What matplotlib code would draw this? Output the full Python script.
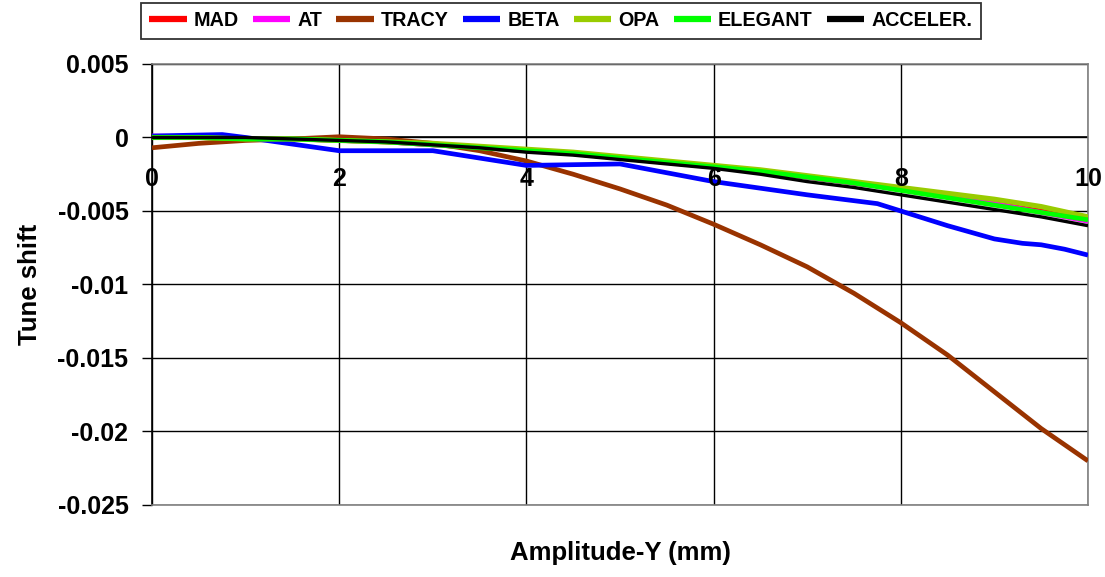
import matplotlib
matplotlib.use("Agg")
import matplotlib.pyplot as plt
from matplotlib import transforms

# Amplitude grid (mm) shared by most codes
amp = [0, 0.5, 1, 1.5, 2, 2.5, 3, 3.5, 4, 4.5, 5, 5.5, 6, 6.5, 7, 7.5, 8, 8.5, 9, 9.5, 10]

mad = [0.0, 0.0, -0.0001, -0.0001, -0.0002, -0.0003, -0.0005, -0.0007, -0.0009, -0.0011,
       -0.0014, -0.0017, -0.0020, -0.0023, -0.0027, -0.0031, -0.0035, -0.0040, -0.0045,
       -0.0050, -0.0055]
at = [0.0001, 0.00005, -0.0001, -0.0001, -0.0002, -0.0003, -0.0005, -0.0007, -0.0009, -0.0011,
      -0.0014, -0.0017, -0.0020, -0.0023, -0.0027, -0.0031, -0.0035, -0.0040, -0.0045,
      -0.0051, -0.0057]
tracy = [-0.0007, -0.0004, -0.0002, -0.0001, 0.00005, -0.0001, -0.0004, -0.0009, -0.0016,
         -0.0025, -0.0035, -0.0046, -0.0059, -0.0073, -0.0088, -0.0106, -0.0126, -0.0148,
         -0.0173, -0.0198, -0.0220]
opa = [0.0, 0.0, -0.0001, -0.0001, -0.0002, -0.0003, -0.0004, -0.0006, -0.0008, -0.0010,
       -0.0013, -0.0016, -0.0019, -0.0022, -0.0026, -0.0030, -0.0034, -0.0038, -0.0042,
       -0.0047, -0.0054]
elegant = [0.0, 0.0, -0.0001, -0.0001, -0.0002, -0.0003, -0.0005, -0.0007, -0.0009, -0.0011,
           -0.0014, -0.0017, -0.0020, -0.0023, -0.0027, -0.0031, -0.0036, -0.0041, -0.0046,
           -0.0051, -0.0056]
acceler = [0.0, 0.0, 0.0, -0.0001, -0.0002, -0.0003, -0.0005, -0.0007, -0.0010, -0.0012,
           -0.0015, -0.0018, -0.0021, -0.0025, -0.0030, -0.0034, -0.0039, -0.0044, -0.0049,
           -0.0054, -0.0060]

# BETA was computed on its own set of amplitudes
beta_amp = [0, 0.75, 1, 2, 3, 4, 5, 6, 7, 7.75, 8, 8.5, 9, 9.3, 9.5, 9.75, 10]
beta = [0.0001, 0.0002, 0.0, -0.0009, -0.0009, -0.0019, -0.0018, -0.0030, -0.0039, -0.0045,
        -0.0050, -0.0060, -0.0069, -0.0072, -0.0073, -0.0076, -0.0080]

x_ticks = [0, 2, 4, 6, 8, 10]
y_ticks = [0.005, 0, -0.005, -0.01, -0.015, -0.02, -0.025]
y_tick_labels = ["0.005", "0", "-0.005", "-0.01", "-0.015", "-0.02", "-0.025"]

plt.rcParams["font.family"] = ["Liberation Sans", "DejaVu Sans"]
plt.rcParams["font.weight"] = "bold"

fig = plt.figure(figsize=(11.05, 5.77), dpi=100)
ax = fig.add_axes([0.1376, 0.1248, 0.9846 - 0.1376, 0.8891 - 0.1248])

series = [
    ("MAD", amp, mad, "#ff0000", 3.4),
    ("AT", amp, at, "#ff00ff", 3.4),
    ("TRACY", amp, tracy, "#993300", 3.4),
    ("BETA", beta_amp, beta, "#0000ff", 3.4),
    ("OPA", amp, opa, "#99cc00", 3.7),
    ("ELEGANT", amp, elegant, "#00ff00", 3.4),
    ("ACCELER.", amp, acceler, "#000000", 2.4),
]
for name, xs, ys, col, lw in series:
    ax.plot(xs, ys, color=col, lw=lw, label=name, solid_capstyle="butt", zorder=3)

ax.set_xlim(0, 10)
ax.set_ylim(-0.025, 0.005)

# grid
ax.set_xticks(x_ticks)
ax.set_yticks(y_ticks)
ax.set_yticklabels(y_tick_labels)
ax.grid(True, color="black", lw=1.0, zorder=1)
ax.set_axisbelow(True)
ax.axhline(0, color="black", lw=1.2, zorder=2)

ax.tick_params(axis="x", length=0, labelbottom=False)
ax.tick_params(axis="y", length=7, width=1, direction="out", pad=10, labelsize=18)
for lab in ax.get_yticklabels():
    lab.set_fontweight("bold")

for side in ("top", "right", "bottom"):
    ax.spines[side].set_color("#808080")
    ax.spines[side].set_linewidth(1.2)
ax.spines["left"].set_color("black")
ax.spines["left"].set_linewidth(1.2)

# x labels sit just below the zero line
xlab_tr = transforms.offset_copy(ax.transData, fig=fig, x=0, y=-30, units="points")
for v in x_ticks:
    ax.text(v, 0, str(v), transform=xlab_tr, ha="center", va="center",
            fontsize=18, fontweight="bold", zorder=5)

ax.set_xlabel("Amplitude-Y (mm)", fontsize=18.5, fontweight="bold", labelpad=26)
ax.set_ylabel("Tune shift", fontsize=18.5, fontweight="bold", labelpad=11)

leg = fig.legend(loc="upper left", bbox_to_anchor=(141 / 1105, 1 - 3 / 577), ncol=7,
                 handlelength=1.9, handletextpad=0.35, columnspacing=0.72,
                 frameon=True, fancybox=False, edgecolor="black", borderpad=0.42,
                 borderaxespad=0, prop={"weight": "bold", "size": 14.2})
leg.get_frame().set_linewidth(1.3)
for h in leg.legend_handles:
    h.set_linewidth(4.5)

fig.savefig("out.png", dpi=100)
